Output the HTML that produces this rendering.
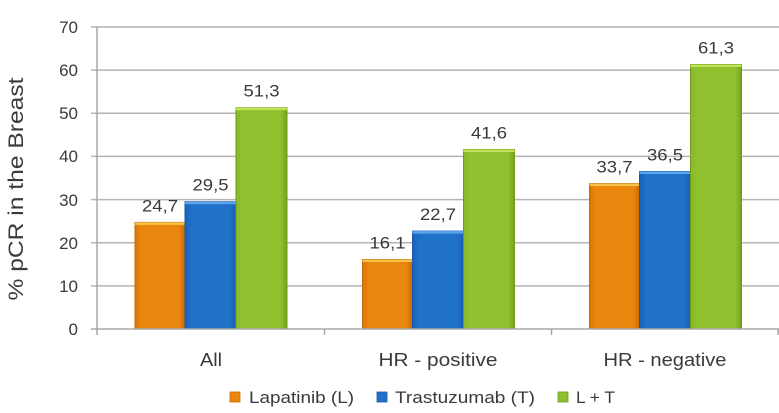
<!DOCTYPE html>
<html>
<head>
<meta charset="utf-8">
<style>
html,body{margin:0;padding:0;background:#fff;}
svg{display:block;}
text{font-family:"Liberation Sans",sans-serif;fill:#3a3a3a;}
</style>
</head>
<body>
<svg width="779" height="413" viewBox="0 0 779 413" xmlns="http://www.w3.org/2000/svg">
<defs>
<linearGradient id="go" x1="0" x2="1" y1="0" y2="0">
<stop offset="0" stop-color="#d97606"/><stop offset="0.12" stop-color="#ea860d"/><stop offset="0.88" stop-color="#ea860d"/><stop offset="1" stop-color="#c86a04"/>
</linearGradient>
<linearGradient id="gb" x1="0" x2="1" y1="0" y2="0">
<stop offset="0" stop-color="#1a62b8"/><stop offset="0.12" stop-color="#2071c8"/><stop offset="0.88" stop-color="#2071c8"/><stop offset="1" stop-color="#1a5dad"/>
</linearGradient>
<linearGradient id="gg" x1="0" x2="1" y1="0" y2="0">
<stop offset="0" stop-color="#86b82a"/><stop offset="0.12" stop-color="#90c02e"/><stop offset="0.88" stop-color="#90c02e"/><stop offset="1" stop-color="#74a21e"/>
</linearGradient>
</defs>

<!-- gridlines -->
<g stroke="#b4b4b4" stroke-width="1.5">
<line x1="91" y1="27" x2="779" y2="27"/>
<line x1="91" y1="70.1" x2="779" y2="70.1"/>
<line x1="91" y1="113.3" x2="779" y2="113.3"/>
<line x1="91" y1="156.4" x2="779" y2="156.4"/>
<line x1="91" y1="199.6" x2="779" y2="199.6"/>
<line x1="91" y1="242.7" x2="779" y2="242.7"/>
<line x1="91" y1="285.9" x2="779" y2="285.9"/>
</g>

<!-- bars -->
<g stroke-width="1">
<rect x="135" y="222.4" width="50" height="106.6" fill="url(#go)" stroke="#c56a06"/>
<rect x="135" y="222.4" width="50" height="2.5" fill="#f7c24a" stroke="none"/>
<rect x="185" y="201.7" width="51" height="127.3" fill="url(#gb)" stroke="#185aa8"/>
<rect x="185" y="201.7" width="51" height="2.5" fill="#5ea6ec" stroke="none"/>
<rect x="236" y="107.7" width="51" height="221.3" fill="url(#gg)" stroke="#6f9a1c"/>
<rect x="236" y="107.7" width="51" height="2.5" fill="#c0e35c" stroke="none"/>

<rect x="362.5" y="259.5" width="50" height="69.5" fill="url(#go)" stroke="#c56a06"/>
<rect x="362.5" y="259.5" width="50" height="2.5" fill="#f7c24a" stroke="none"/>
<rect x="412.5" y="231.1" width="51" height="97.9" fill="url(#gb)" stroke="#185aa8"/>
<rect x="412.5" y="231.1" width="51" height="2.5" fill="#5ea6ec" stroke="none"/>
<rect x="463.5" y="149.5" width="51" height="179.5" fill="url(#gg)" stroke="#6f9a1c"/>
<rect x="463.5" y="149.5" width="51" height="2.5" fill="#c0e35c" stroke="none"/>

<rect x="589.5" y="183.6" width="50" height="145.4" fill="url(#go)" stroke="#c56a06"/>
<rect x="589.5" y="183.6" width="50" height="2.5" fill="#f7c24a" stroke="none"/>
<rect x="639.5" y="171.5" width="51" height="157.5" fill="url(#gb)" stroke="#185aa8"/>
<rect x="639.5" y="171.5" width="51" height="2.5" fill="#5ea6ec" stroke="none"/>
<rect x="690.5" y="64.5" width="51" height="264.5" fill="url(#gg)" stroke="#6f9a1c"/>
<rect x="690.5" y="64.5" width="51" height="2.5" fill="#c0e35c" stroke="none"/>
</g>

<!-- axes -->
<g stroke="#a8a8a8" stroke-width="1.5">
<line x1="97" y1="27" x2="97" y2="335"/>
<line x1="91" y1="329" x2="779" y2="329"/>
<line x1="324.5" y1="329" x2="324.5" y2="335"/>
<line x1="551.5" y1="329" x2="551.5" y2="335"/>
<line x1="778" y1="329" x2="778" y2="335"/>
</g>

<!-- y tick labels -->
<g font-size="17" text-anchor="end">
<text x="78" y="33">70</text>
<text x="78" y="76">60</text>
<text x="78" y="119">50</text>
<text x="78" y="162">40</text>
<text x="78" y="206">30</text>
<text x="78" y="249">20</text>
<text x="78" y="292">10</text>
<text x="78" y="335">0</text>
</g>

<!-- y title -->
<text transform="translate(23,189) rotate(-90)" font-size="21" text-anchor="middle" textLength="223" lengthAdjust="spacingAndGlyphs">% pCR in the Breast</text>

<!-- data labels -->
<g font-size="17" text-anchor="middle">
<text x="160" y="211.5" textLength="36" lengthAdjust="spacingAndGlyphs">24,7</text>
<text x="210.5" y="190.7" textLength="36" lengthAdjust="spacingAndGlyphs">29,5</text>
<text x="261.5" y="96.7" textLength="36" lengthAdjust="spacingAndGlyphs">51,3</text>
<text x="387.5" y="248.5" textLength="36" lengthAdjust="spacingAndGlyphs">16,1</text>
<text x="438" y="220.1" textLength="36" lengthAdjust="spacingAndGlyphs">22,7</text>
<text x="489" y="138.5" textLength="36" lengthAdjust="spacingAndGlyphs">41,6</text>
<text x="614.5" y="172.6" textLength="36" lengthAdjust="spacingAndGlyphs">33,7</text>
<text x="665" y="160.5" textLength="36" lengthAdjust="spacingAndGlyphs">36,5</text>
<text x="716" y="53.5" textLength="36" lengthAdjust="spacingAndGlyphs">61,3</text>
</g>

<!-- category labels -->
<g font-size="18" text-anchor="middle">
<text x="211" y="366" textLength="22" lengthAdjust="spacingAndGlyphs">All</text>
<text x="438" y="366" textLength="119" lengthAdjust="spacingAndGlyphs">HR - positive</text>
<text x="665" y="366" textLength="123" lengthAdjust="spacingAndGlyphs">HR - negative</text>
</g>

<!-- legend -->
<rect x="230" y="392" width="10" height="10" fill="#ea860d" stroke="#c56a06" stroke-width="0.8"/>
<text x="249" y="403" font-size="17" textLength="105" lengthAdjust="spacingAndGlyphs">Lapatinib (L)</text>
<rect x="377" y="392" width="10" height="10" fill="#2071c8" stroke="#185aa8" stroke-width="0.8"/>
<text x="395" y="403" font-size="17" textLength="140" lengthAdjust="spacingAndGlyphs">Trastuzumab (T)</text>
<rect x="558" y="392" width="10" height="10" fill="#90c02e" stroke="#6f9a1c" stroke-width="0.8"/>
<text x="576" y="403" font-size="17" textLength="39" lengthAdjust="spacingAndGlyphs">L + T</text>
</svg>
</body>
</html>
